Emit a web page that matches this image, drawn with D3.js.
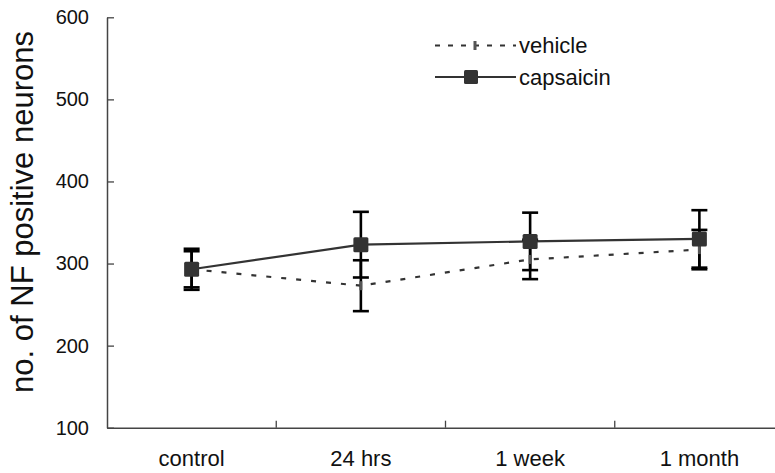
<!DOCTYPE html>
<html>
<head>
<meta charset="utf-8">
<script src="https://cdn.jsdelivr.net/npm/d3@7"></script>
<style>
  html, body { margin: 0; padding: 0; background: #fff; }
  svg { display: block; font-family: "Liberation Sans", Arial, sans-serif; }
</style>
</head>
<body>
<svg id="chart" width="775" height="473"></svg>
<script>
// Time points after treatment
const categories = ["control", "24 hrs", "1 week", "1 month"];

// Mean counts of NF positive neurons and their error (±)
const vehicleMean = [293, 273, 305, 317];
const vehicleErr  = [22, 31, 24, 24];
const capsaicinMean = [293, 323, 327, 330];
const capsaicinErr  = [25, 40, 35, 35];

const yTicks = [100, 200, 300, 400, 500, 600];

const svg = d3.select("#chart");

const x = d3.scaleBand().domain(categories).range([107, 784]);
const y = d3.scaleLinear().domain([100, 600]).range([427.7, 17.3]);
const cx = c => x(c) + x.bandwidth() / 2;

const axisColor = "#444";

// Y axis with inward ticks
const yAxis = svg.append("g")
  .attr("transform", "translate(107,0)")
  .call(d3.axisLeft(y).tickValues(yTicks).tickSizeInner(-7).tickSizeOuter(0).tickPadding(18));
yAxis.select(".domain").attr("stroke", axisColor).attr("stroke-width", 1.5);
yAxis.selectAll(".tick line").attr("stroke", axisColor).attr("stroke-width", 1.3);
yAxis.selectAll(".tick text")
  .attr("font-size", 20).attr("fill", "#111")
  .attr("font-family", "Liberation Sans, Arial, sans-serif");

// X axis: labels at band centres, ticks at band boundaries
const xAxis = svg.append("g")
  .attr("transform", "translate(0,427.7)")
  .call(d3.axisBottom(x).tickSize(0).tickPadding(23));
xAxis.select(".domain").attr("stroke", axisColor).attr("stroke-width", 1.5);
xAxis.selectAll(".tick text")
  .attr("font-size", 22).attr("fill", "#111")
  .attr("font-family", "Liberation Sans, Arial, sans-serif");
xAxis.selectAll(".boundary")
  .data(categories.slice(1))
  .join("line")
  .attr("class", "boundary")
  .attr("x1", c => x(c)).attr("x2", c => x(c))
  .attr("y1", 0).attr("y2", -7)
  .attr("stroke", axisColor).attr("stroke-width", 1.3);

// Y axis title
svg.append("text")
  .attr("transform", `translate(33,212) rotate(-90)`)
  .attr("text-anchor", "middle")
  .attr("font-size", 31)
  .attr("fill", "#111")
  .text("no. of NF positive neurons");

const line = d3.line().x((d, i) => cx(categories[i])).y(d => y(d));

// Series lines
svg.append("path")
  .datum(vehicleMean)
  .attr("d", line)
  .attr("fill", "none")
  .attr("stroke", "#333")
  .attr("stroke-width", 2.2)
  .attr("stroke-dasharray", "5,10");

svg.append("path")
  .datum(capsaicinMean)
  .attr("d", line)
  .attr("fill", "none")
  .attr("stroke", "#333")
  .attr("stroke-width", 2.2);

// Error bars
function errorBars(means, errs) {
  const g = svg.append("g").attr("stroke", "#000").attr("stroke-width", 2.6);
  means.forEach((m, i) => {
    const px = cx(categories[i]);
    const top = y(m + errs[i]), bot = y(m - errs[i]);
    g.append("line").attr("x1", px).attr("x2", px).attr("y1", top).attr("y2", bot);
    g.append("line").attr("x1", px - 8).attr("x2", px + 8).attr("y1", top).attr("y2", top);
    g.append("line").attr("x1", px - 8).attr("x2", px + 8).attr("y1", bot).attr("y2", bot);
  });
}
errorBars(vehicleMean, vehicleErr);
errorBars(capsaicinMean, capsaicinErr);

// Markers
svg.selectAll(".vmark")
  .data(vehicleMean)
  .join("rect")
  .attr("class", "vmark")
  .attr("x", (d, i) => cx(categories[i]) - 1.5)
  .attr("y", d => y(d) - 4.5)
  .attr("width", 3).attr("height", 9)
  .attr("fill", "#555");

svg.selectAll(".cmark")
  .data(capsaicinMean)
  .join("rect")
  .attr("class", "cmark")
  .attr("x", (d, i) => cx(categories[i]) - 7.5)
  .attr("y", d => y(d) - 7.5)
  .attr("width", 15).attr("height", 15)
  .attr("rx", 1.5)
  .attr("fill", "#333");

// Legend
const legend = svg.append("g");
legend.append("line")
  .attr("x1", 435).attr("x2", 516).attr("y1", 45.5).attr("y2", 45.5)
  .attr("stroke", "#333").attr("stroke-width", 2.2).attr("stroke-dasharray", "5,8");
legend.append("rect")
  .attr("x", 473.5).attr("y", 41).attr("width", 3).attr("height", 9).attr("fill", "#555");
legend.append("text")
  .attr("x", 519).attr("y", 45.5).attr("dy", "0.35em")
  .attr("font-size", 22).attr("fill", "#111").text("vehicle");

legend.append("line")
  .attr("x1", 435).attr("x2", 516).attr("y1", 77).attr("y2", 77)
  .attr("stroke", "#333").attr("stroke-width", 2.2);
legend.append("rect")
  .attr("x", 464).attr("y", 70).attr("width", 14).attr("height", 14).attr("rx", 1.5).attr("fill", "#333");
legend.append("text")
  .attr("x", 519).attr("y", 77).attr("dy", "0.35em")
  .attr("font-size", 22).attr("fill", "#111").text("capsaicin");
</script>
</body>
</html>
